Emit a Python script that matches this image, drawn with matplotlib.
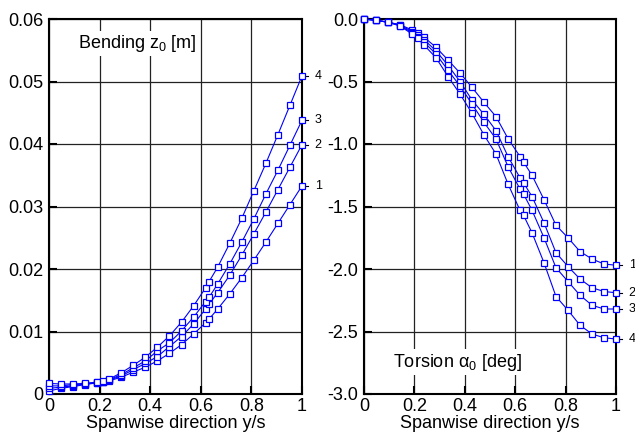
import matplotlib
matplotlib.use("Agg")
import matplotlib.pyplot as plt
from matplotlib.ticker import FixedLocator, FixedFormatter
import matplotlib.transforms as mtransforms

plt.rcParams['font.family'] = ['Liberation Sans', 'DejaVu Sans']
plt.rcParams['axes.unicode_minus'] = False
plt.rcParams['mathtext.fontset'] = 'custom'
plt.rcParams['mathtext.rm'] = 'Liberation Sans'

# spanwise stations y/s
x = [0.0, 1/21, 2/21, 3/21, 4/21, 0.215, 5/21, 6/21, 7/21, 8/21, 9/21, 10/21,
     11/21, 12/21, 13/21, 0.633, 14/21, 15/21, 16/21, 17/21, 18/21, 19/21, 20/21, 1.0]

# Bending z0 [m]
bend_1 = [0.0005, 0.0009, 0.0012, 0.0015, 0.0018, 0.0019, 0.0021, 0.0027, 0.0035, 0.0043,
          0.0053, 0.0065, 0.0079, 0.0096, 0.0114, 0.0120, 0.0136, 0.0160, 0.0186, 0.0214,
          0.0243, 0.0273, 0.0303, 0.0333]
bend_2 = [0.0009, 0.0011, 0.0013, 0.0016, 0.0018, 0.0020, 0.0022, 0.0029, 0.0039, 0.0049,
          0.0060, 0.0076, 0.0092, 0.0112, 0.0136, 0.0144, 0.0162, 0.0190, 0.0222, 0.0256,
          0.0291, 0.0327, 0.0363, 0.0399]
bend_3 = [0.0013, 0.0013, 0.0015, 0.0016, 0.0019, 0.0020, 0.0023, 0.0031, 0.0042, 0.0053,
          0.0069, 0.0082, 0.0101, 0.0123, 0.0148, 0.0155, 0.0176, 0.0208, 0.0243, 0.0280,
          0.0320, 0.0358, 0.0398, 0.0438]
bend_4 = [0.0017, 0.0016, 0.0016, 0.0017, 0.0019, 0.0021, 0.0024, 0.0034, 0.0046, 0.0059,
          0.0075, 0.0093, 0.0115, 0.0141, 0.0170, 0.0180, 0.0203, 0.0241, 0.0281, 0.0325,
          0.0369, 0.0415, 0.0462, 0.0509]

# Torsion alpha0 [deg]
tors_1 = [0.0, -0.01, -0.026, -0.045, -0.088, -0.115, -0.146, -0.226, -0.328, -0.432,
          -0.547, -0.667, -0.781, -0.957, -1.10, -1.144, -1.25, -1.445, -1.65, -1.75,
          -1.86, -1.92, -1.96, -1.97]
tors_2 = [0.0, -0.01, -0.026, -0.048, -0.10, -0.13, -0.165, -0.255, -0.37, -0.50,
          -0.648, -0.763, -0.893, -1.10, -1.27, -1.31, -1.42, -1.63, -1.87, -1.98,
          -2.08, -2.15, -2.18, -2.19]
tors_3 = [0.0, -0.01, -0.026, -0.052, -0.11, -0.14, -0.185, -0.28, -0.41, -0.536,
          -0.68, -0.827, -0.96, -1.18, -1.36, -1.40, -1.53, -1.75, -1.99, -2.10,
          -2.21, -2.29, -2.32, -2.32]
tors_4 = [0.0, -0.01, -0.026, -0.056, -0.12, -0.155, -0.208, -0.31, -0.46, -0.60,
          -0.755, -0.928, -1.08, -1.32, -1.53, -1.57, -1.71, -1.95, -2.22, -2.33,
          -2.45, -2.52, -2.55, -2.56]

series_labels = ['1', '2', '3', '4']

xticks = [0, 0.2, 0.4, 0.6, 0.8, 1.0]
xticklabels = ['0', '0.2', '0.4', '0.6', '0.8', '1']
bend_ticks = [0, 0.01, 0.02, 0.03, 0.04, 0.05, 0.06]
bend_ticklabels = ['0', '0.01', '0.02', '0.03', '0.04', '0.05', '0.06']
tors_ticks = [-3.0, -2.5, -2.0, -1.5, -1.0, -0.5, 0.0]
tors_ticklabels = ['-3.0', '-2.5', '-2.0', '-1.5', '-1.0', '-0.5', '0.0']

W, H = 635, 433
fig = plt.figure(figsize=(W / 100, H / 100), dpi=100)
ax1 = fig.add_axes([49 / W, (H - 394) / H, 253 / W, 375 / H])
ax2 = fig.add_axes([364 / W, (H - 394) / H, 252 / W, 375 / H])

blue = '#0000ff'
fs = 13


def style(ax, yticks, ylabels, ylim):
    ax.set_xlim(0, 1)
    ax.set_ylim(*ylim)
    ax.xaxis.set_major_locator(FixedLocator(xticks))
    ax.xaxis.set_major_formatter(FixedFormatter(xticklabels))
    ax.yaxis.set_major_locator(FixedLocator(yticks))
    ax.yaxis.set_major_formatter(FixedFormatter(ylabels))
    ax.tick_params(direction='in', length=6, width=1.5, labelsize=fs, pad=4, colors='black')
    ax.tick_params(axis='x', pad=3)
    ax.grid(True, color='#222222', linewidth=0.9)
    ax.set_axisbelow(True)
    for s in ax.spines.values():
        s.set_linewidth(1.5)
        s.set_color('black')
    ax.set_xlabel('Spanwise direction y/s', fontsize=fs, labelpad=0)


def end_labels(ax, values):
    trans = mtransforms.blended_transform_factory(ax.transAxes, ax.transData)
    for v, lab in zip(values, series_labels):
        ax.plot([1.0, 1.025], [v, v], color='black', lw=0.8, transform=trans, clip_on=False)
        ax.text(1.05, v, lab, transform=trans, fontsize=9, va='center', ha='left')


bend = [bend_1, bend_2, bend_3, bend_4]
tors = [tors_1, tors_2, tors_3, tors_4]

for s in bend:
    ax1.plot(x, s, color=blue, lw=0.8, marker='s', markersize=4.2, markerfacecolor='white',
             markeredgecolor=blue, markeredgewidth=0.9, clip_on=False, zorder=3)
for s in tors:
    ax2.plot(x, s, color=blue, lw=0.8, marker='s', markersize=4.2, markerfacecolor='white',
             markeredgecolor=blue, markeredgewidth=0.9, clip_on=False, zorder=3)

style(ax1, bend_ticks, bend_ticklabels, (0, 0.06))
style(ax2, tors_ticks, tors_ticklabels, (-3.0, 0.0))

end_labels(ax1, [s[-1] for s in bend])
end_labels(ax2, [s[-1] for s in tors])

ax1.text(0.115, 0.935, 'Bending z$_\\mathregular{0}$ [m]', transform=ax1.transAxes,
         fontsize=fs, va='center', ha='left',
         bbox=dict(facecolor='white', edgecolor='none', pad=1.5))
ax2.text(0.115, 0.085, 'Torsion α$_\\mathregular{0}$ [deg]', transform=ax2.transAxes,
         fontsize=fs, va='center', ha='left',
         bbox=dict(facecolor='white', edgecolor='none', pad=1.5))

fig.savefig('out.png', dpi=100)
